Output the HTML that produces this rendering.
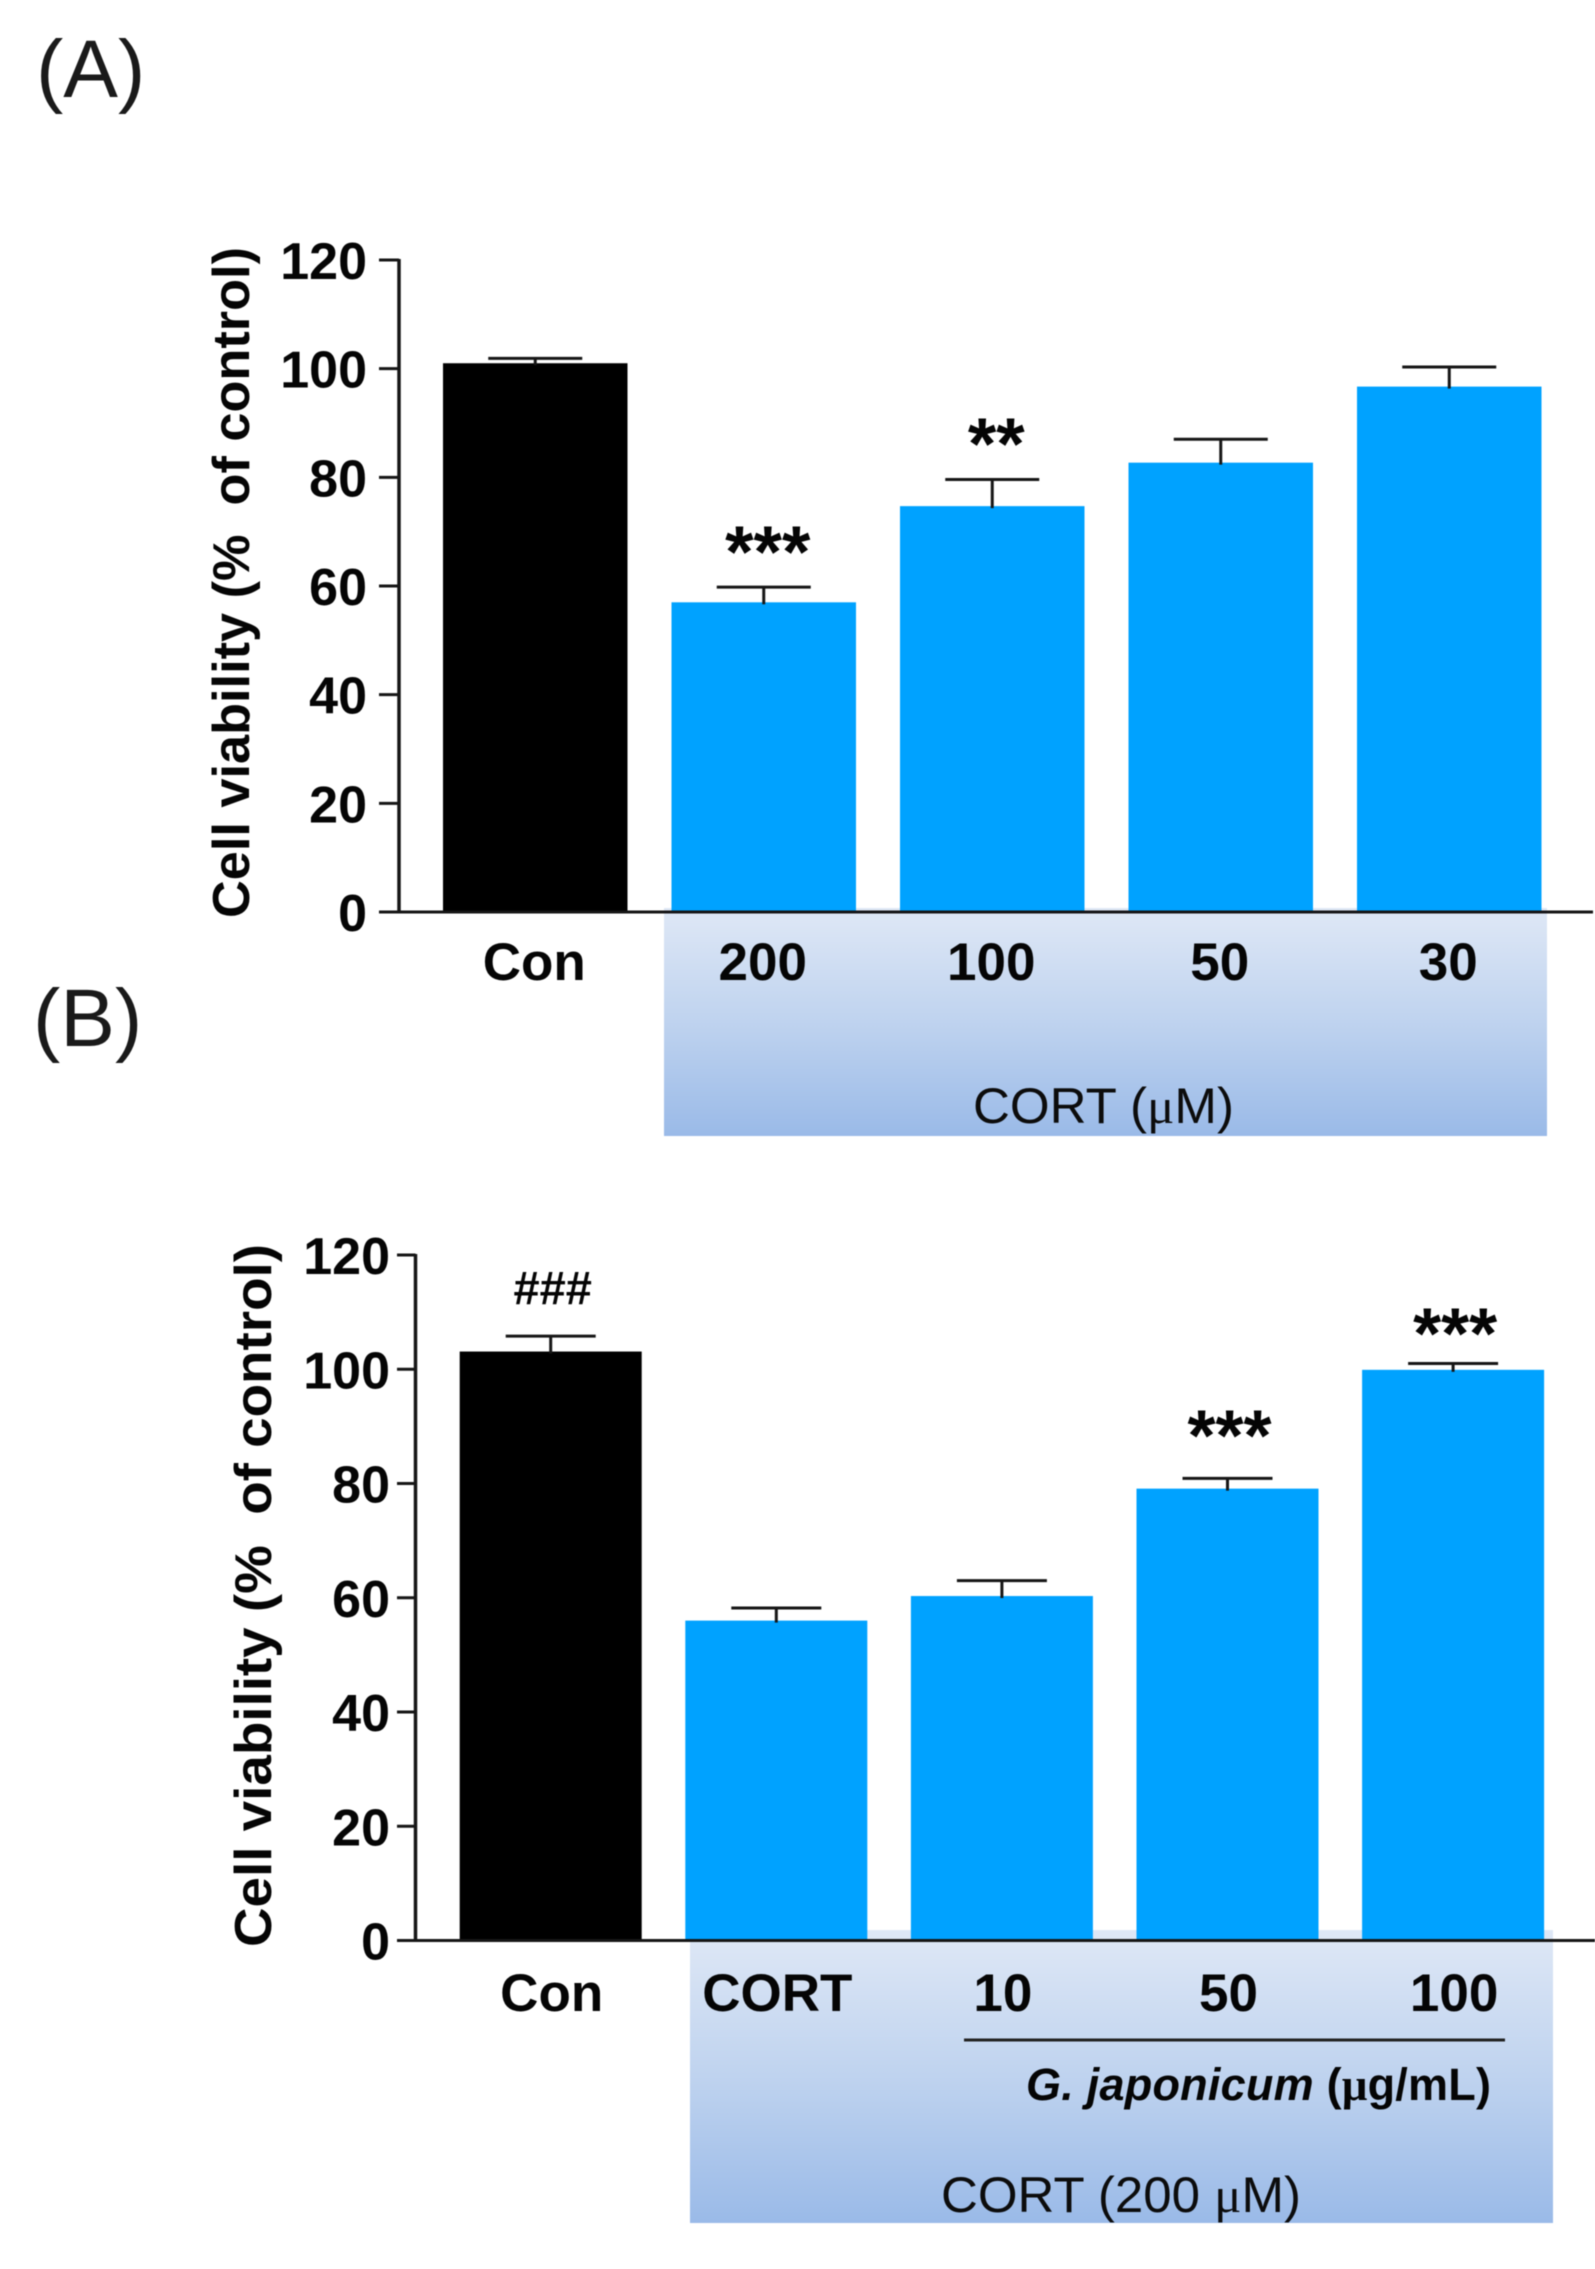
<!DOCTYPE html>
<html lang="en">
<head>
<meta charset="utf-8">
<title>Cell viability charts</title>
<style>
html,body{margin:0;padding:0;background:#fff;width:1595px;height:2269px;overflow:hidden}
svg{display:block;font-family:"Liberation Sans",Arial,sans-serif;fill:#000;filter:blur(0.6px)}
text{fill:#050505}
.tick{font-weight:700;font-size:52px;text-anchor:end}
.cat{font-weight:700;font-size:53px;text-anchor:middle}
.title{font-weight:700;font-size:52px}
.panel{font-size:82px;fill:#1a1a1a}
.unit{font-size:50px;fill:#0c0c0c}
.mu{font-family:"Liberation Serif",serif}
</style>
</head>
<body>
<svg id="figure" xmlns="http://www.w3.org/2000/svg" width="1595" height="2269" viewBox="0 0 1595 2269">
  <defs>
    <linearGradient id="band" x1="0" y1="0" x2="0" y2="1">
      <stop offset="0" stop-color="#dfe8f6"/>
      <stop offset="0.5" stop-color="#bfd3ef"/>
      <stop offset="1" stop-color="#9abae8"/>
    </linearGradient>
  </defs>
  <rect width="1595" height="2269" fill="#fff"/>

  <text class="panel" x="36" y="97">(A)</text>
  <text class="panel" x="33" y="1046">(B)</text>

  <rect x="664" y="908" width="883" height="228" fill="url(#band)"/>
  <rect x="690" y="1930" width="863" height="293" fill="url(#band)"/>

  <g id="chart-a"></g>
  <g id="chart-b"></g>

  <text class="title" transform="translate(249 918) rotate(-90)" textLength="671" lengthAdjust="spacingAndGlyphs" xml:space="preserve">Cell viability (%  of control)</text>
  <text class="title" transform="translate(271 1947) rotate(-90)" textLength="703" lengthAdjust="spacingAndGlyphs" xml:space="preserve">Cell viability (%  of control)</text>

  <text class="unit" x="973" y="1123" textLength="261" lengthAdjust="spacingAndGlyphs">CORT (<tspan class="mu">μ</tspan>M)</text>
  <line x1="964" y1="2040" x2="1505" y2="2040" stroke="#222" stroke-width="3"/>
  <text x="1026" y="2100" font-size="45" font-weight="700" textLength="465" lengthAdjust="spacing"><tspan font-style="italic">G. japonicum</tspan> (<tspan class="mu">μ</tspan>g/mL)</text>
  <text class="unit" x="941" y="2212" textLength="360" lengthAdjust="spacingAndGlyphs">CORT (200 <tspan class="mu">μ</tspan>M)</text>
</svg>

<script>
// Shared axis
const tickValues = [0, 20, 40, 60, 80, 100, 120];
const tickLabels = ["0", "20", "40", "60", "80", "100", "120"];

// Panel A
const categoriesA = ["Con", "200", "100", "50", "30"];
const valuesA = [101, 57, 74.7, 82.7, 96.7];
const errorsA = [0.9, 2.8, 4.9, 4.3, 3.6];
const significanceA = ["", "***", "**", "", ""];
const significanceClearanceA = [0, 1.85, 1.95, 0, 0];

// Panel B
const categoriesB = ["Con", "CORT", "10", "50", "100"];
const valuesB = [103.1, 56, 60.3, 79.1, 99.9];
const errorsB = [2.7, 2.2, 2.7, 1.8, 1.1];
const significanceB = ["###", "", "", "***", "***"];
const significanceClearanceB = [5.5, 0, 0, 3.1, 0.9];

const NS = "http://www.w3.org/2000/svg";

function make(tag, attrs, parent, text) {
  const el = document.createElementNS(NS, tag);
  for (const k in attrs) el.setAttribute(k, attrs[k]);
  if (text !== undefined) el.textContent = text;
  parent.appendChild(el);
  return el;
}

function drawChart(root, g, categories, values, errors, significance, clearance, sigFont) {
  const y = v => g.y0 - (v / 120) * (g.y0 - g.y120);
  const barX = i => g.x0 + i * g.pitch;
  const barCenter = i => barX(i) + g.barW / 2;
  const axisColor = "#161616";

  categories.forEach((c, i) => {
    const bar = make("rect", {
      x: barX(i), y: y(values[i]), width: g.barW, height: g.y0 - y(values[i]),
      fill: i === 0 ? "#000000" : "#00a2ff"
    }, root);
    
    

    const top = y(values[i] + errors[i]);
    const stem = make("line", {
      x1: barCenter(i), x2: barCenter(i), y1: top, y2: y(values[i]) + 2,
      stroke: axisColor, "stroke-width": 3
    }, root);
    
    

    const cap = make("line", {
      x1: barCenter(i) - g.capW / 2, x2: barCenter(i) + g.capW / 2, y1: top, y2: top,
      stroke: axisColor, "stroke-width": 3
    }, root);
    
    

    const label = make("text", {
      class: "cat", x: barCenter(i) + g.labelShift, y: g.labelY
    }, root, c);
    
    

    if (significance[i]) {
      const isHash = significance[i].charAt(0) === "#";
      const mark = make("text", {
        x: barCenter(i) + g.sigShift,
        y: y(values[i] + errors[i] + clearance[i]),
        "text-anchor": "middle",
        "font-weight": 700,
        "font-size": isHash ? 47 : sigFont
      }, root, significance[i]);
      
      
    }
  });

  const yAxis = make("line", {
    x1: g.axisX, x2: g.axisX, y1: y(120) - 1, y2: g.y0,
    stroke: axisColor, "stroke-width": 3.5
  }, root);
  
  

  const xAxis = make("line", {
    x1: g.tickX, x2: 1595 - g.xEndGap, y1: g.y0, y2: g.y0,
    stroke: axisColor, "stroke-width": 3
  }, root);
  
  

  tickValues.forEach((v, i) => {
    const tick = make("line", {
      x1: g.tickX, x2: g.axisX, y1: y(v), y2: y(v),
      stroke: axisColor, "stroke-width": 3
    }, root);
    
    

    const tickText = make("text", {
      class: "tick", x: g.tickTextX, y: y(v) + 19
    }, root, tickLabels[i]);
    
    
  });
}

drawChart(document.getElementById("chart-a"),
  { y0: 912, y120: 260, x0: 443, pitch: 228.5, barW: 184.5, capW: 94,
    axisX: 399, tickX: 379, tickTextX: 367, labelY: 980, labelShift: -1,
    sigShift: 4, xEndGap: 2 },
  categoriesA, valuesA, errorsA, significanceA, significanceClearanceA, 73);

drawChart(document.getElementById("chart-b"),
  { y0: 1940.5, y120: 1255, x0: 459.7, pitch: 225.6, barW: 182, capW: 90,
    axisX: 415.5, tickX: 397, tickTextX: 390, labelY: 2011, labelShift: 1,
    sigShift: 2, xEndGap: 0 },
  categoriesB, valuesB, errorsB, significanceB, significanceClearanceB, 72);
</script>
</body>
</html>
